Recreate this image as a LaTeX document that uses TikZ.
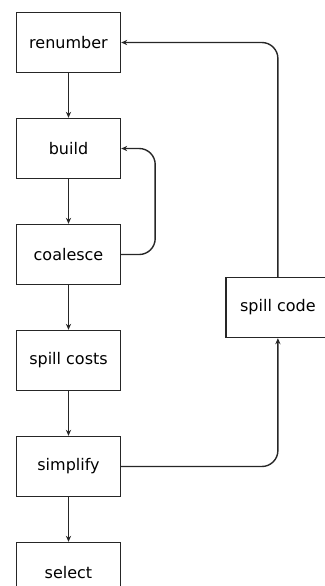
\documentclass[tikz,border=0pt]{standalone}
\usepackage{fontspec}
\setmainfont{DejaVu Sans}
\usepackage{tikz}
\usetikzlibrary{arrows.meta,positioning,calc}

\begin{document}
\begin{tikzpicture}[
    >={Stealth[length=3pt,width=2.6pt]},
    node distance=22.3pt,
    stage/.style={draw=black!85, line width=0.7pt, align=center, minimum width=52pt, minimum height=30pt, inner sep=0pt, font=\fontsize{8}{10}\selectfont},
    flow/.style={->, line width=0.7pt, draw=black!85}
]
\clip (0,0) rectangle (162.5pt,-293pt);
\node[stage] (renumber) at (34.25pt,-21.25pt) {renumber};
\node[stage, below=of renumber] (build) {build};
\node[stage, below=of build] (coalesce) {coalesce};
\node[stage, below=of coalesce] (costs) {spill costs};
\node[stage, below=of costs] (simplify) {simplify};
\node[stage, below=of simplify] (select) {select};
\coordinate (mid) at ($(coalesce.east)!0.5!(costs.east)$);
\node[stage, right=52pt of mid] (spill) {spill code};
\draw[flow] (renumber) -- (build);
\draw[flow] (build) -- (coalesce);
\draw[flow] (coalesce) -- (costs);
\draw[flow] (costs) -- (simplify);
\draw[flow] (simplify) -- (select);
\draw[flow, rounded corners=8pt] (coalesce.east) -- ++(17pt,0) |- (build.east);
\draw[flow, rounded corners=8pt] (simplify.east) -| (spill.south);
\draw[flow, rounded corners=8pt] (spill.north) |- (renumber.east);
\end{tikzpicture}
\end{document}
